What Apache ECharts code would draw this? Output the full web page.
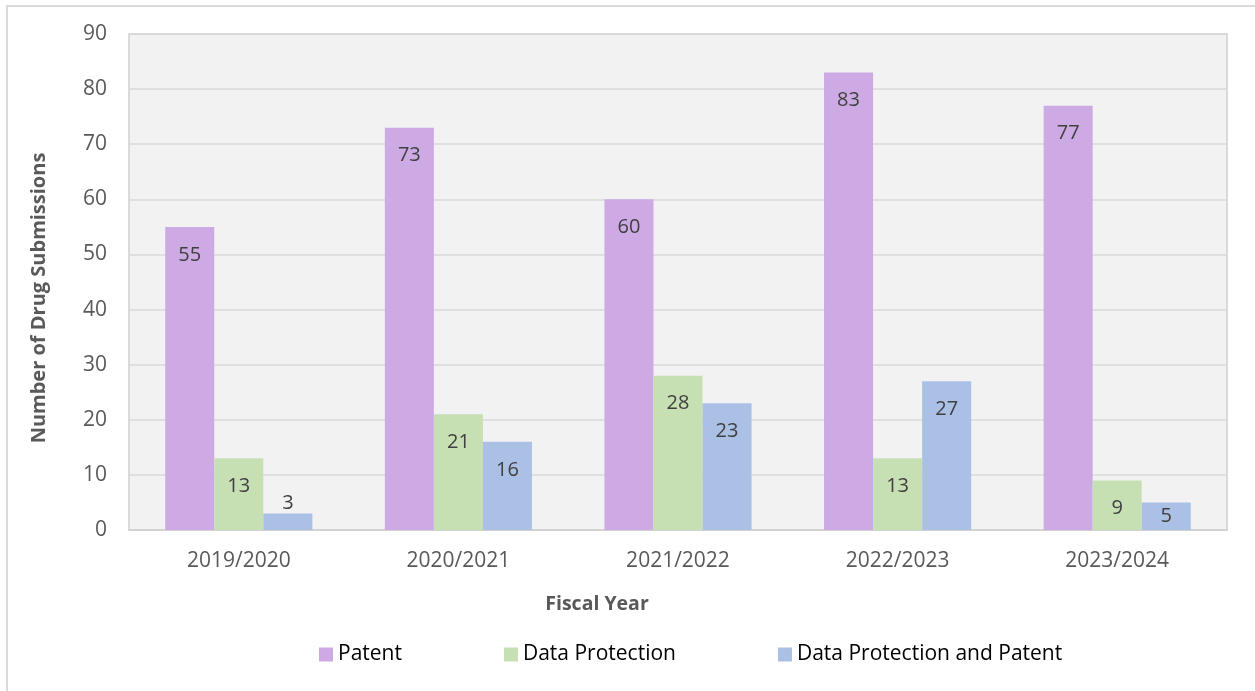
<!DOCTYPE html>
<html lang="en">
<head>
  <meta charset="UTF-8" />
  <title>Drug Submissions by Fiscal Year</title>
  <script src="https://cdn.jsdelivr.net/npm/echarts@6/dist/echarts.min.js"></script>
  <style>
    body {
      margin: 0;
      padding: 0;
      background: #ffffff;
      overflow: hidden;
    }
    #frame {
      position: absolute;
      left: 6px;
      top: 5px;
      width: 1300px;
      height: 750px;
      border-left: 2px solid #d9d9d9;
      border-top: 2px solid #d9d9d9;
    }
    #main {
      position: absolute;
      left: 0;
      top: 0;
      width: 1255px;
      height: 691px;
    }
  </style>
</head>
<body>
  <div id="frame"></div>
  <div id="main"></div>
  <script>
    const years = ['2019/2020', '2020/2021', '2021/2022', '2022/2023', '2023/2024'];
    const patent = [55, 73, 60, 83, 77];
    const dataProtection = [13, 21, 28, 13, 9];
    const dataProtectionAndPatent = [3, 16, 23, 27, 5];

    const FONT = '"Open Sans", "Liberation Sans", sans-serif';

    // excel-style "inside end" labels: small bars get centred or pushed above
    function withLabels(values) {
      return values.map(v => {
        let label;
        if (v < 4) label = { position: 'top', distance: 0 };
        else if (v < 7) label = { position: 'inside' };
        else label = { position: 'insideTop', distance: 18 };
        return { value: v, label: label };
      });
    }

    function bar(name, values, color) {
      return {
        name: name,
        type: 'bar',
        data: withLabels(values),
        barGap: '0%',
        barCategoryGap: '33%',
        itemStyle: { color: color },
        label: {
          show: true,
          color: '#404040',
          fontSize: 20,
          fontFamily: FONT
        }
      };
    }

    const chart = echarts.init(document.getElementById('main'));
    chart.setOption({
      animation: false,
      backgroundColor: 'transparent',
      grid: {
        left: 129,
        right: 28,
        top: 34,
        bottom: 161,
        show: true,
        backgroundColor: '#f2f2f2',
        borderColor: '#d0d0d0',
        borderWidth: 1.5
      },
      legend: {
        bottom: 21,
        left: 314,
        itemWidth: 14,
        itemHeight: 14,
        itemGap: 102,
        icon: 'rect',
        textStyle: { color: '#000000', fontSize: 21, fontFamily: FONT }
      },
      xAxis: {
        type: 'category',
        data: years,
        name: 'Fiscal Year',
        nameLocation: 'middle',
        nameGap: 64,
        nameTextStyle: {
          color: '#595959', fontSize: 19.5, fontWeight: 'bold', fontFamily: FONT,
          padding: [0, 162, 0, 0]
        },
        axisLine: { lineStyle: { color: '#d0d0d0', width: 1.5 } },
        axisTick: { show: false },
        axisLabel: { color: '#595959', fontSize: 21, margin: 21, fontFamily: FONT }
      },
      yAxis: {
        type: 'value',
        min: 0,
        max: 90,
        interval: 10,
        name: 'Number of Drug Submissions',
        nameLocation: 'middle',
        nameGap: 80,
        nameTextStyle: {
          color: '#595959', fontSize: 20, fontWeight: 'bold', fontFamily: FONT,
          padding: [0, 32, 0, 0]
        },
        axisLine: { show: false },
        axisTick: { show: false },
        splitLine: { lineStyle: { color: '#d9d9d9', width: 1.5 } },
        axisLabel: { color: '#595959', fontSize: 21, margin: 22, fontFamily: FONT }
      },
      series: [
        bar('Patent', patent, '#cdaae4'),
        bar('Data Protection', dataProtection, '#c6e0b4'),
        bar('Data Protection and Patent', dataProtectionAndPatent, '#abc0e5')
      ]
    });
  </script>
</body>
</html>
